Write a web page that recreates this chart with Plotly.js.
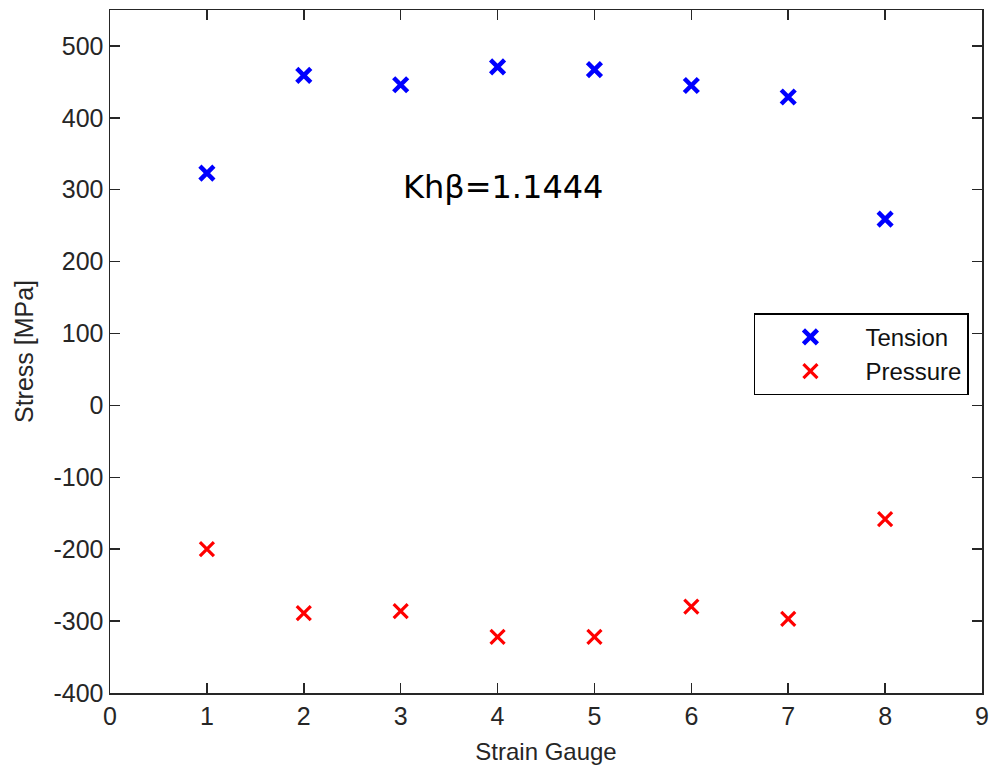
<!DOCTYPE html>
<html>
<head>
<meta charset="utf-8">
<script src="https://cdn.plot.ly/plotly-3.0.1.min.js"></script>
<style>html,body{margin:0;padding:0;background:#fff;}#chart{width:989px;height:766px;}</style>
</head>
<body>
<div id="chart"></div>
<script>
const gauges = [1, 2, 3, 4, 5, 6, 7, 8];
const tension = [323, 459, 446, 471, 467, 445, 429, 259];
const pressure = [-200, -289, -286, -322, -322, -280, -297, -158];
const xTicks = [0, 1, 2, 3, 4, 5, 6, 7, 8, 9];
const yTicks = [-400, -300, -200, -100, 0, 100, 200, 300, 400, 500];
const annotationText = 'Khβ=1.1444';

const FONT = 'Liberation Sans, Arial, sans-serif';

const traces = [
  {
    x: gauges, y: tension, name: 'Tension', type: 'scatter', mode: 'markers',
    marker: {symbol: 'x-thin-open', size: 14, color: '#0000ff', line: {color: '#0000ff', width: 4.5}}
  },
  {
    x: gauges, y: pressure, name: 'Pressure', type: 'scatter', mode: 'markers',
    marker: {symbol: 'x-thin-open', size: 14, color: '#ff0000', line: {color: '#ff0000', width: 3.2}}
  }
];

const axisCommon = {
  showgrid: false, zeroline: false, showline: true, linecolor: '#262626', linewidth: 1.5,
  mirror: 'ticks', ticks: 'inside', ticklen: 10, tickwidth: 1.5, tickcolor: '#262626',
  tickfont: {family: FONT, size: 25, color: '#262626'}
};

const layout = {
  width: 989, height: 766,
  margin: {l: 110, r: 7, t: 10, b: 73},
  paper_bgcolor: '#ffffff', plot_bgcolor: '#ffffff',
  font: {family: FONT, color: '#262626'},
  xaxis: Object.assign({}, axisCommon, {
    range: [0, 9], tickvals: xTicks, ticktext: xTicks.map(String),
    title: {text: 'Strain Gauge', font: {family: FONT, size: 24, color: '#262626'}, standoff: 14}
  }),
  yaxis: Object.assign({}, axisCommon, {
    range: [-400, 550], tickvals: yTicks, ticktext: yTicks.map(String),
    title: {text: 'Stress [MPa]', font: {family: FONT, size: 25, color: '#262626'}, standoff: 12}
  }),
  legend: {
    x: 0.985, xanchor: 'right', y: 0.556, yanchor: 'top',
    bgcolor: '#ffffff', bordercolor: '#000000', borderwidth: 1.5,
    font: {family: FONT, size: 24, color: '#111111'}, itemwidth: 100
  },
  showlegend: true,
  annotations: [{
    x: 3, y: 304, xref: 'x', yref: 'y', xanchor: 'left', yanchor: 'middle',
    text: annotationText, showarrow: false,
    font: {family: 'DejaVu Sans, sans-serif', size: 32, color: '#000000'}
  }]
};

Plotly.newPlot('chart', traces, layout, {displayModeBar: false, staticPlot: true});
</script>
</body>
</html>
